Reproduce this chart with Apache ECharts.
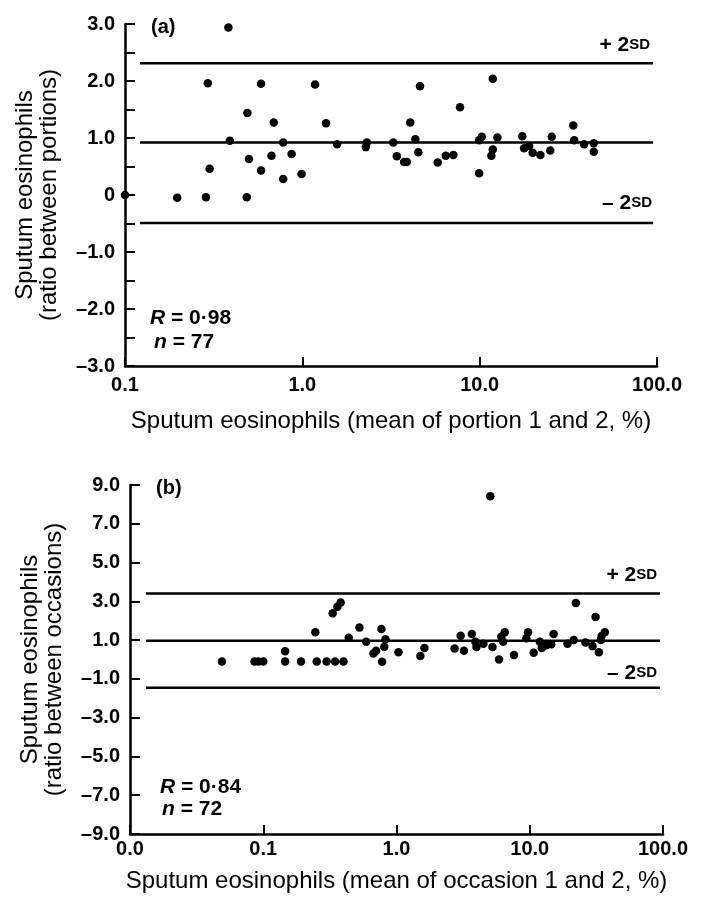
<!DOCTYPE html>
<html><head><meta charset="utf-8">
<script src="https://cdn.jsdelivr.net/npm/echarts@6/dist/echarts.min.js"></script>
<style>html,body{margin:0;padding:0;background:#fff}#c{width:701px;height:900px}</style>
</head><body><div id="c"></div>
<script>
// ---------- Panel (a) data ----------
const xA = [0.383,0.293,0.585,1.18,0.49,0.69,1.36,0.39,0.78,1.57,2.31,2.28,3.26,3.41,0.50,0.67,0.87,0.30,0.585,0.78,0.99,0.197,0.286,0.486,0.1,4.61,11.86,7.75,4.06,33.7,4.34,3.75,3.88,4.51,5.8,6.44,7.11,9.93,10.28,9.93,12.59,11.86,11.64,17.4,17.8,19.0,19.9,22.0,25.5,25.0,34.1,38.8,44.0,44.0];
const yA = [2.94,1.96,1.95,1.94,1.44,1.27,1.26,0.95,0.92,0.89,0.92,0.84,0.92,0.68,0.63,0.69,0.72,0.46,0.43,0.28,0.37,-0.05,-0.04,-0.04,0,1.91,2.04,1.54,1.27,1.22,0.98,0.58,0.58,0.75,0.57,0.69,0.70,0.96,1.02,0.38,1.01,0.80,0.69,1.03,0.82,0.86,0.74,0.70,1.02,0.78,0.96,0.89,0.91,0.76];
const sdA = {upper: 2.31, mean: 0.92, lower: -0.49};
const sdSpanA = [0.1215, 95];
const xTickValsA = [0.1, 1, 10, 100];
const xTickLabelsA = ['0.1','1.0','10.0','100.0'];
const yTickValsA = [-3,-2.5,-2,-1.5,-1,-0.5,0,0.5,1,1.5,2,2.5,3];
const yLabelValsA = [-3,-2,-1,0,1,2,3];
const yLabelsA = ['–3.0','–2.0','–1.0','0','1.0','2.0','3.0'];

// ---------- Panel (b) data ----------
const xB = [0.049,0.086,0.092,0.1,0.146,0.146,0.192,0.252,0.299,0.346,0.40,0.246,0.332,0.36,0.381,0.438,0.527,0.592,0.771,0.826,0.81,0.671,0.703,0.78,1.035,1.51,1.62,2.73,3.21,3.03,3.68,3.91,3.98,4.49,5.06,5.25,5.88,6.12,6.49,6.31,7.62,9.71,9.43,10.7,11.9,12.3,13.3,14.5,15.1,19.2,21.4,22.2,26.2,29.6,31.2,33.0,34.6,36.6,34.2];
const yB = [-0.1,-0.1,-0.1,-0.1,-0.1,0.43,-0.1,-0.1,-0.1,-0.1,-0.1,1.40,2.38,2.72,2.94,1.12,1.65,0.91,1.57,1.05,0.66,0.31,0.45,-0.12,0.38,0.18,0.59,0.57,0.45,1.22,1.31,0.91,0.65,0.81,8.42,0.64,0.0,1.17,1.40,0.91,0.23,1.40,1.09,0.35,0.91,0.59,0.74,0.79,1.31,0.81,1.0,2.92,0.88,0.69,2.19,0.38,1.21,1.40,1.0];
const sdB = {upper: 3.41, mean: 0.97, lower: -1.46};
const sdSpanB = [0.0132, 95];
const xTickValsB = [0.01, 0.1, 1, 10, 100];
const xTickLabelsB = ['0.0','0.1','1.0','10.0','100.0'];
const yTickValsB = [-9,-7,-5,-3,-1,1,3,5,7,9];
const yLabelsB = ['–9.0','–7.0','–5.0','–3.0','–1.0','1.0','3.0','5.0','7.0','9.0'];

// ---------- helpers ----------
const FONT = 'Liberation Sans, Arial, Helvetica, sans-serif';
const BLACK = '#000';
function logLabel(vals, labels) {
  return function (v) {
    for (let i = 0; i < vals.length; i++) {
      if (Math.abs(Math.log10(v) - Math.log10(vals[i])) < 1e-6) return labels[i];
    }
    return '';
  };
}
function linLabel(vals, labels) {
  return function (v) {
    for (let i = 0; i < vals.length; i++) {
      if (Math.abs(v - vals[i]) < 1e-6) return labels[i];
    }
    return '';
  };
}
function pairs(xs, ys) { return xs.map((x, i) => [x, ys[i]]); }
function sdLine(span, y, idx) {
  return {
    type: 'line', xAxisIndex: idx, yAxisIndex: idx, silent: true,
    symbol: 'none', data: [[span[0], y], [span[1], y]],
    lineStyle: {color: BLACK, width: 2.5, opacity: 1}, z: 1
  };
}
function xAxisDef(idx, min, vals, labels, name, gap, margin) {
  return {
    type: 'log', logBase: 10, gridIndex: idx, min: min, max: 100,
    axisLine: {show: true, onZero: false, lineStyle: {color: BLACK, width: 2.5}},
    axisTick: {show: true, inside: true, length: 9, lineStyle: {color: BLACK, width: 2}},
    axisLabel: {color: BLACK, fontFamily: FONT, fontSize: 20, fontWeight: 'bold', margin: margin,
      formatter: logLabel(vals, labels), showMinLabel: true, showMaxLabel: true},
    splitLine: {show: false}, minorTick: {show: false},
    name: name, nameLocation: 'middle', nameGap: gap,
    nameTextStyle: {color: BLACK, fontFamily: FONT, fontSize: 24}
  };
}
function yAxisDef(idx, min, max, tickVals, labelVals, labels, name, gap) {
  return {
    type: 'value', gridIndex: idx, min: min, max: max,
    axisLine: {show: true, onZero: false, lineStyle: {color: BLACK, width: 2.5}},
    axisTick: {show: true, inside: true, length: 10, customValues: tickVals, lineStyle: {color: BLACK, width: 2}},
    axisLabel: {color: BLACK, fontFamily: FONT, fontSize: 20, fontWeight: 'bold', margin: 10,
      customValues: labelVals, formatter: linLabel(labelVals, labels)},
    splitLine: {show: false},
    name: name, nameLocation: 'middle', nameGap: gap, nameRotate: 90,
    nameTextStyle: {color: BLACK, fontFamily: FONT, fontSize: 24, lineHeight: 24, align: 'center'}
  };
}
function txt(x, y, rich, text, align) {
  return {type: 'text', x: x, y: y, silent: true,
    style: {text: text, rich: rich, align: align || 'left', verticalAlign: 'middle', fill: BLACK, font: 'bold 20px ' + FONT}};
}
const richStat = {
  i: {fontFamily: FONT, fontSize: 21, fontStyle: 'italic', fontWeight: 'bold', fill: BLACK},
  t: {fontFamily: FONT, fontSize: 21, fontWeight: 'bold', fill: BLACK}
};
const richSD = {
  b: {fontFamily: FONT, fontSize: 21, fontWeight: 'bold', fill: BLACK},
  s: {fontFamily: FONT, fontSize: 15, fontWeight: 'bold', fill: BLACK}
};

const chart = echarts.init(document.getElementById('c'), null, {renderer: 'canvas'});
chart.setOption({
  animation: false,
  backgroundColor: '#fff',
  grid: [
    {left: 125, right: 44, top: 24, bottom: 534},
    {left: 130, right: 38, top: 485, bottom: 66}
  ],
  xAxis: [
    xAxisDef(0, 0.1, xTickValsA, xTickLabelsA, 'Sputum eosinophils (mean of portion 1 and 2, %)', 43, 9),
    xAxisDef(1, 0.01, xTickValsB, xTickLabelsB, 'Sputum eosinophils (mean of occasion 1 and 2, %)', 35, 5)
  ],
  yAxis: [
    yAxisDef(0, -3, 3, yTickValsA, yLabelValsA, yLabelsA, 'Sputum eosinophils\n(ratio between portions)', 64),
    yAxisDef(1, -9, 9, yTickValsB, yTickValsB, yLabelsB, 'Sputum eosinophils\n(ratio between occasions)', 64)
  ],
  series: [
    sdLine(sdSpanA, sdA.upper, 0), sdLine(sdSpanA, sdA.mean, 0), sdLine(sdSpanA, sdA.lower, 0),
    {type: 'scatter', xAxisIndex: 0, yAxisIndex: 0, data: pairs(xA, yA), symbolSize: 8.5,
      itemStyle: {color: BLACK, opacity: 1}, clip: false, z: 3},
    sdLine(sdSpanB, sdB.upper, 1), sdLine(sdSpanB, sdB.mean, 1), sdLine(sdSpanB, sdB.lower, 1),
    {type: 'scatter', xAxisIndex: 1, yAxisIndex: 1, data: pairs(xB, yB), symbolSize: 8.5,
      itemStyle: {color: BLACK, opacity: 1}, clip: false, z: 3}
  ],
  graphic: [
    txt(151, 27, null, '(a)'),
    txt(156, 488, null, '(b)'),
    txt(150, 318, richStat, '{i|R}{t| = 0·98}'),
    txt(154, 342, richStat, '{i|n}{t| = 77}'),
    txt(160, 787, richStat, '{i|R}{t| = 0·84}'),
    txt(162, 809, richStat, '{i|n}{t| = 72}'),
    txt(650, 45, richSD, '{b|+ 2}{s|SD}', 'right'),
    txt(652, 203, richSD, '{b|– 2}{s|SD}', 'right'),
    txt(657, 575, richSD, '{b|+ 2}{s|SD}', 'right'),
    txt(657, 673, richSD, '{b|– 2}{s|SD}', 'right')
  ]
});
</script></body></html>
